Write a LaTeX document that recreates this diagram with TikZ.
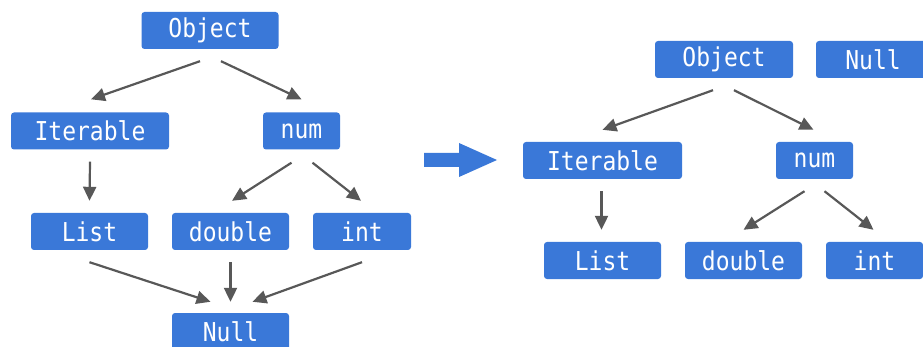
\documentclass[tikz,border=0pt]{standalone}
\usepackage{fontspec}
\newfontfamily\boxfont[FakeStretch=0.885]{DejaVu Sans Mono}
\usepackage{xcolor}
\usepackage{tikz}
\usetikzlibrary{arrows.meta}
\usetikzlibrary{positioning}
\usetikzlibrary{calc}

\definecolor{boxblue}{RGB}{58,120,216}
\definecolor{linkgray}{RGB}{88,88,88}

\begin{document}
\begin{tikzpicture}[x=1pt,y=-1pt]
        \useasboundingbox (0,0) rectangle (923,347);
        \begin{scope}[every node/.style={fill=boxblue,text=white,rounded corners=3pt,
                minimum height=37pt,inner sep=0pt,
                font=\boxfont\fontsize{26}{28}\selectfont}]
        % before
        \node[minimum width=137pt] (obj) at (210,30.5) {Object};
        \node[minimum width=158pt] (iter) at (90,131) {Iterable};
        \node[minimum width=77pt] (num) at (301.5,131) {num};
        \node[minimum width=117pt] (list) at (89.5,231.5) {List};
        \node[minimum width=117pt] (dbl) at (230.5,231.5) {double};
        \node[minimum width=98pt] (int) at (362,231.5) {int};
        \node[minimum width=117pt] (null) at (230.5,331.5) {Null};
        % after
        \node[minimum width=138pt] (obj2) at (724,59.5) {Object};
        \node[minimum width=114pt] (null2) at (873,59.5) {Null};
        \node[minimum width=159pt] (iter2) at (602.5,160.5) {Iterable};
        \node[minimum width=77pt] (num2) at (814.5,160.5) {num};
        \node[minimum width=117pt] (list2) at (602.5,260.5) {List};
        \node[minimum width=117pt] (dbl2) at (743.5,260.5) {double};
        \node[minimum width=97pt] (int2) at (874.5,260.5) {int};
        \end{scope}
        \begin{scope}[every edge/.style={draw=linkgray,line width=2.2pt,
                -{Triangle[length=14pt,width=13pt]}}]
        \path ([xshift=-10pt,yshift=-12pt]obj.south) edge ([xshift=1pt,yshift=13pt]iter.north);
        \path ([xshift=11pt,yshift=-12pt]obj.south) edge ([yshift=13pt]num.north);
        \path ([yshift=-12pt]iter.south) edge ([yshift=12pt]list.north);
        \path ([xshift=-10pt,yshift=-13pt]num.south) edge ([xshift=1.5pt,yshift=12pt]dbl.north);
        \path ([xshift=11pt,yshift=-13pt]num.south) edge ([xshift=-1pt,yshift=12pt]int.north);
        \path ([yshift=-12pt]list.south) edge ([xshift=-20pt,yshift=11pt]null.north);
        \path ([yshift=-12pt]dbl.south) edge ([yshift=11pt]null.north);
        \path ([yshift=-12pt]int.south) edge ([xshift=22pt,yshift=11pt]null.north);
        \path ([xshift=-11pt,yshift=-12pt]obj2.south) edge ([yshift=12pt]iter2.north);
        \path ([xshift=10pt,yshift=-12pt]obj2.south) edge ([xshift=-1pt,yshift=12pt]num2.north);
        \path ([xshift=-1pt,yshift=-12pt]iter2.south) edge ([xshift=-1pt,yshift=12pt]list2.north);
        \path ([xshift=-10pt,yshift=-12pt]num2.south) edge ([yshift=12pt]dbl2.north);
        \path ([xshift=10pt,yshift=-12pt]num2.south) edge ([xshift=-1pt,yshift=12pt]int2.north);
        \end{scope}
        % big arrow
        \fill[boxblue] (424,153) -- (459,153) -- (459,143) -- (497,160)
                -- (459,177) -- (459,167) -- (424,167) -- cycle;
        \end{tikzpicture}
\end{document}
